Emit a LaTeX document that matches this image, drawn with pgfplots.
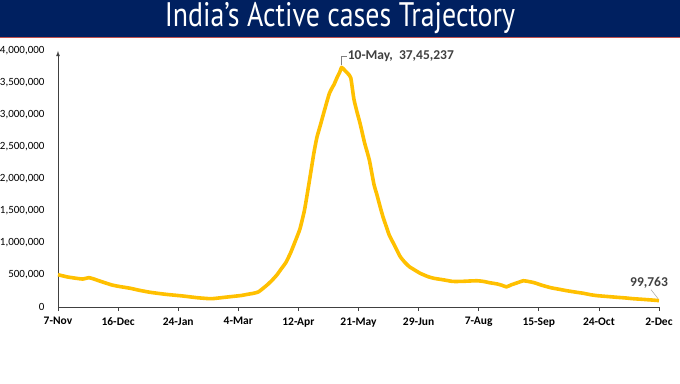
\documentclass[border=0pt]{standalone}
\usepackage{fontspec}
\setmainfont{Carlito}
\newfontfamily\titlefont[FakeStretch=0.82]{PT Sans}
\usepackage{pgfplots}
\pgfplotsset{compat=1.18}
\usepackage{pgfplotstable}
\definecolor{navy}{HTML}{002060}
\definecolor{gold}{HTML}{FFC000}
\definecolor{txtgray}{HTML}{404040}
\definecolor{redline}{HTML}{C0504D}

\pgfplotstableread{
day value
0 505000
6 470000
12 448000
16 437000
20 458000
23 440000
27 406000
35 344000
40 320000
47 292000
53 260000
60 229000
70 198000
81 172000
90 146000
97 132000
100 130000
104 140000
108 151000
116 172000
119 180000
123 198000
127 215000
130 235000
133 290000
136 350000
139 420000
142 500000
145 600000
148 700000
151 850000
154 1030000
157 1220000
160 1520000
163 1950000
166 2400000
168 2650000
170 2820000
173 3080000
176 3330000
178 3430000
179 3470000
181 3580000
183 3680000
184 3745237
186 3700000
188 3650000
190 3580000
192 3250000
194 3050000
196 2870000
199 2560000
202 2300000
205 1920000
207 1750000
209 1570000
211 1400000
213 1260000
215 1120000
218 980000
222 790000
225 700000
228 630000
232 570000
235 527000
240 475000
244 448000
250 425000
256 400000
262 400000
266 405000
272 410000
276 400000
280 380000
285 360000
288 340000
291 315000
294 345000
297 370000
300 395000
302 410000
305 400000
309 380000
314 340000
320 300000
325 278000
330 255000
336 232000
341 214000
346 190000
350 177000
356 165000
363 151000
368 142000
373 130000
378 122000
382 115000
386 108000
390 99763
}\activecases

\begin{document}
\begin{tikzpicture}[x=1pt,y=1pt]
\path[use as bounding box] (0,0) rectangle (680,383);
\fill[white] (0,0) rectangle (680,383);
\fill[navy] (0,346) rectangle (680,383);
\draw[redline, line width=1pt] (0,345.5) -- (680,345.5);
\node[text=white, font=\titlefont\fontsize{34}{38}\selectfont] at (340,364.5) {India’s Active cases Trajectory};

\begin{axis}[
  at={(58pt,76pt)}, anchor=south west,
  scale only axis, width=601pt, height=256pt,
  xmin=0, xmax=390, ymin=0, ymax=4000000,
  axis x line=bottom, axis y line=left,
  x axis line style={-, draw=txtgray, line width=0.8pt},
  y axis line style={-latex, draw=txtgray, line width=0.8pt},
  xtick={0,39,78,117,156,195,234,273,312,351,390},
  xticklabels={7-Nov,16-Dec,24-Jan,4-Mar,12-Apr,21-May,29-Jun,7-Aug,15-Sep,24-Oct,2-Dec},
  ytick={0,500000,1000000,1500000,2000000,2500000,3000000,3500000,4000000},
  scaled y ticks=false,
  /pgf/number format/fixed,
  /pgf/number format/1000 sep={,},
  /pgf/number format/assume math mode=true,
  y tick label style={font=\fontsize{11}{13}\selectfont, text=black, xshift=-6pt},
  x tick label style={font=\bfseries\fontsize{11.5}{13}\selectfont, text=black, yshift=-3pt},
  tick align=outside,
  major tick length=4pt,
  xtick style={draw=txtgray, line width=0.8pt},
  ytick style={draw=none},
  clip=false,
]
\addplot[gold, line width=3.6pt, line join=round, smooth, tension=0.3] table[x=day, y=value] {\activecases};
\draw[gray, line width=0.6pt] (axis cs:184,3745237) ++(0,2.5pt) -- ++(0,8.5pt) -- ++(5pt,0)
  node[anchor=west, inner sep=1pt, text=txtgray, font=\bfseries\fontsize{13.5}{15}\selectfont] {10-May,~~37,45,237};
\draw[gray!70, line width=0.5pt] (axis cs:390,99763) ++(-1pt,2pt) -- ++(-7pt,9pt)
  node[anchor=south, xshift=-2pt, inner sep=1.5pt, text=txtgray, font=\bfseries\fontsize{13.5}{15}\selectfont] {99,763};
\end{axis}
\end{tikzpicture}
\end{document}
